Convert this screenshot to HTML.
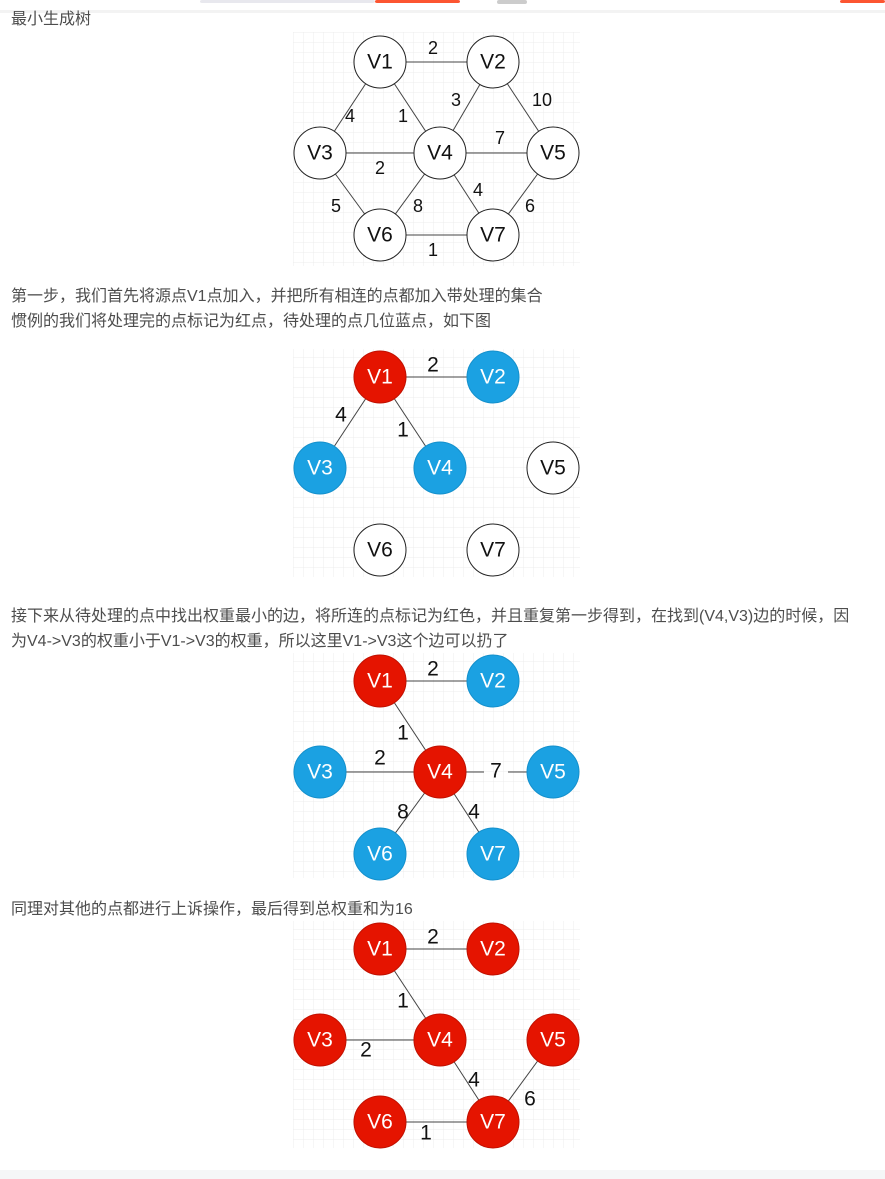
<!DOCTYPE html>
<html><head><meta charset="utf-8"><style>
html,body{margin:0;padding:0;background:#fff;width:885px;height:1179px;overflow:hidden}
svg{position:absolute;left:0;top:0}
.t{font-family:"Liberation Sans","Noto Sans CJK SC",sans-serif;font-size:16px;fill:#4d4d4d}
.n{font-family:"Liberation Sans",sans-serif;font-size:21px;text-anchor:middle;dominant-baseline:central}
.l{font-family:"Liberation Sans",sans-serif;font-size:18px;text-anchor:middle;dominant-baseline:central;fill:#111}
.l2{font-family:"Liberation Sans",sans-serif;font-size:21px;text-anchor:middle;dominant-baseline:central;fill:#111}
</style></head><body>
<svg width="885" height="1179" xmlns="http://www.w3.org/2000/svg">
<defs>
<pattern id="g" width="10" height="10" patternUnits="userSpaceOnUse" x="293" y="32">
<path d="M10 0H0V10" fill="none" stroke="#ececec" stroke-width="1"/>
</pattern>
</defs>
<rect x="0" y="0" width="885" height="10" fill="#fff"/>
<rect x="0" y="10" width="885" height="3" fill="#f3f3f3"/>
<rect x="200" y="0" width="175" height="3" fill="#e8e8ee" rx="2"/>
<rect x="375" y="0" width="85" height="3" fill="#fc5531" rx="2"/>
<rect x="497" y="0" width="30" height="4" fill="#ccc" rx="2"/>
<rect x="840" y="0" width="45" height="3" fill="#fc5531" rx="2"/>
<rect x="0" y="1170" width="885" height="9" fill="#f5f6f7"/>

<text class="t" x="11" y="24">最小生成树</text>
<text class="t" x="11" y="301">第一步，我们首先将源点V1点加入，并把所有相连的点都加入带处理的集合</text>
<text class="t" x="11" y="326">惯例的我们将处理完的点标记为红点，待处理的点几位蓝点，如下图</text>
<text class="t" x="11" y="621">接下来从待处理的点中找出权重最小的边，将所连的点标记为红色，并且重复第一步得到，在找到(V4,V3)边的时候，因</text>
<text class="t" x="11" y="646">为V4-&gt;V3的权重小于V1-&gt;V3的权重，所以这里V1-&gt;V3这个边可以扔了</text>
<text class="t" x="11" y="914">同理对其他的点都进行上诉操作，最后得到总权重和为16</text>

<g>
<rect x="293" y="32" width="287" height="234" fill="url(#g)"/>
<g stroke="#444" stroke-width="1">
<line x1="380" y1="62" x2="493" y2="62"/><line x1="380" y1="62" x2="320" y2="153"/>
<line x1="380" y1="62" x2="440" y2="153"/><line x1="493" y1="62" x2="440" y2="153"/>
<line x1="493" y1="62" x2="553" y2="153"/><line x1="320" y1="153" x2="553" y2="153"/>
<line x1="320" y1="153" x2="380" y2="235"/><line x1="440" y1="153" x2="380" y2="235"/>
<line x1="440" y1="153" x2="493" y2="235"/><line x1="553" y1="153" x2="493" y2="235"/>
<line x1="380" y1="235" x2="493" y2="235"/>
</g>
<g fill="#fff" stroke="#222" stroke-width="1">
<circle cx="380" cy="62" r="26"/><circle cx="493" cy="62" r="26"/><circle cx="320" cy="153" r="26"/>
<circle cx="440" cy="153" r="26"/><circle cx="553" cy="153" r="26"/><circle cx="380" cy="235" r="26"/><circle cx="493" cy="235" r="26"/>
</g>
<g fill="#111">
<text class="n" x="380" y="62">V1</text><text class="n" x="493" y="62">V2</text><text class="n" x="320" y="153">V3</text>
<text class="n" x="440" y="153">V4</text><text class="n" x="553" y="153">V5</text><text class="n" x="380" y="235">V6</text><text class="n" x="493" y="235">V7</text>
</g>
<text class="l" x="433" y="48">2</text><text class="l" x="350" y="116">4</text><text class="l" x="403" y="116">1</text>
<text class="l" x="456" y="100">3</text><text class="l" x="542" y="100">10</text><text class="l" x="500" y="138">7</text>
<text class="l" x="380" y="168">2</text><text class="l" x="336" y="206">5</text><text class="l" x="418" y="206">8</text>
<text class="l" x="478" y="190">4</text><text class="l" x="530" y="206">6</text><text class="l" x="433" y="250">1</text>
</g>

<g transform="translate(0,315)">
<rect x="293" y="34" width="287" height="228" fill="url(#g)"/>
<g stroke="#444" stroke-width="1">
<line x1="380" y1="62" x2="493" y2="62"/><line x1="380" y1="62" x2="320" y2="153"/><line x1="380" y1="62" x2="440" y2="153"/>
</g>
<circle cx="380" cy="62" r="26" fill="#e51400" stroke="#c01000"/>
<g fill="#1ba1e2" stroke="#1490cc"><circle cx="493" cy="62" r="26"/><circle cx="320" cy="153" r="26"/><circle cx="440" cy="153" r="26"/></g>
<g fill="#fff" stroke="#222"><circle cx="553" cy="153" r="26"/><circle cx="380" cy="235" r="26"/><circle cx="493" cy="235" r="26"/></g>
<g fill="#fff"><text class="n" x="380" y="62">V1</text><text class="n" x="493" y="62">V2</text><text class="n" x="320" y="153">V3</text><text class="n" x="440" y="153">V4</text></g>
<g fill="#111"><text class="n" x="553" y="153">V5</text><text class="n" x="380" y="235">V6</text><text class="n" x="493" y="235">V7</text></g>
<text class="l2" x="433" y="50">2</text><text class="l2" x="341" y="100">4</text><text class="l2" x="403" y="115">1</text>
</g>

<g transform="translate(0,619)">
<rect x="293" y="34" width="287" height="225" fill="url(#g)"/>
<g stroke="#444" stroke-width="1">
<line x1="380" y1="62" x2="493" y2="62"/><line x1="380" y1="62" x2="440" y2="153"/>
<line x1="320" y1="153" x2="484" y2="153"/><line x1="508" y1="153" x2="553" y2="153"/>
<line x1="440" y1="153" x2="380" y2="235"/><line x1="440" y1="153" x2="493" y2="235"/>
</g>
<g fill="#e51400" stroke="#c01000"><circle cx="380" cy="62" r="26"/><circle cx="440" cy="153" r="26"/></g>
<g fill="#1ba1e2" stroke="#1490cc"><circle cx="493" cy="62" r="26"/><circle cx="320" cy="153" r="26"/><circle cx="553" cy="153" r="26"/><circle cx="380" cy="235" r="26"/><circle cx="493" cy="235" r="26"/></g>
<g fill="#fff"><text class="n" x="380" y="62">V1</text><text class="n" x="493" y="62">V2</text><text class="n" x="320" y="153">V3</text><text class="n" x="440" y="153">V4</text><text class="n" x="553" y="153">V5</text><text class="n" x="380" y="235">V6</text><text class="n" x="493" y="235">V7</text></g>
<text class="l2" x="433" y="50">2</text><text class="l2" x="403" y="114">1</text><text class="l2" x="380" y="139">2</text>
<text class="l2" x="496" y="152">7</text><text class="l2" x="403" y="193">8</text><text class="l2" x="474" y="193">4</text>
</g>

<g transform="translate(0,887)">
<rect x="293" y="34" width="287" height="227" fill="url(#g)"/>
<g stroke="#444" stroke-width="1">
<line x1="380" y1="62" x2="493" y2="62"/><line x1="380" y1="62" x2="440" y2="153"/>
<line x1="320" y1="153" x2="440" y2="153"/><line x1="440" y1="153" x2="493" y2="235"/>
<line x1="553" y1="153" x2="493" y2="235"/><line x1="380" y1="235" x2="493" y2="235"/>
</g>
<g fill="#e51400" stroke="#c01000"><circle cx="380" cy="62" r="26"/><circle cx="493" cy="62" r="26"/><circle cx="320" cy="153" r="26"/><circle cx="440" cy="153" r="26"/><circle cx="553" cy="153" r="26"/><circle cx="380" cy="235" r="26"/><circle cx="493" cy="235" r="26"/></g>
<g fill="#fff"><text class="n" x="380" y="62">V1</text><text class="n" x="493" y="62">V2</text><text class="n" x="320" y="153">V3</text><text class="n" x="440" y="153">V4</text><text class="n" x="553" y="153">V5</text><text class="n" x="380" y="235">V6</text><text class="n" x="493" y="235">V7</text></g>
<text class="l2" x="433" y="50">2</text><text class="l2" x="403" y="114">1</text><text class="l2" x="366" y="163">2</text>
<text class="l2" x="474" y="193">4</text><text class="l2" x="530" y="212">6</text><text class="l2" x="426" y="246">1</text>
</g>
</svg>
</body></html>
